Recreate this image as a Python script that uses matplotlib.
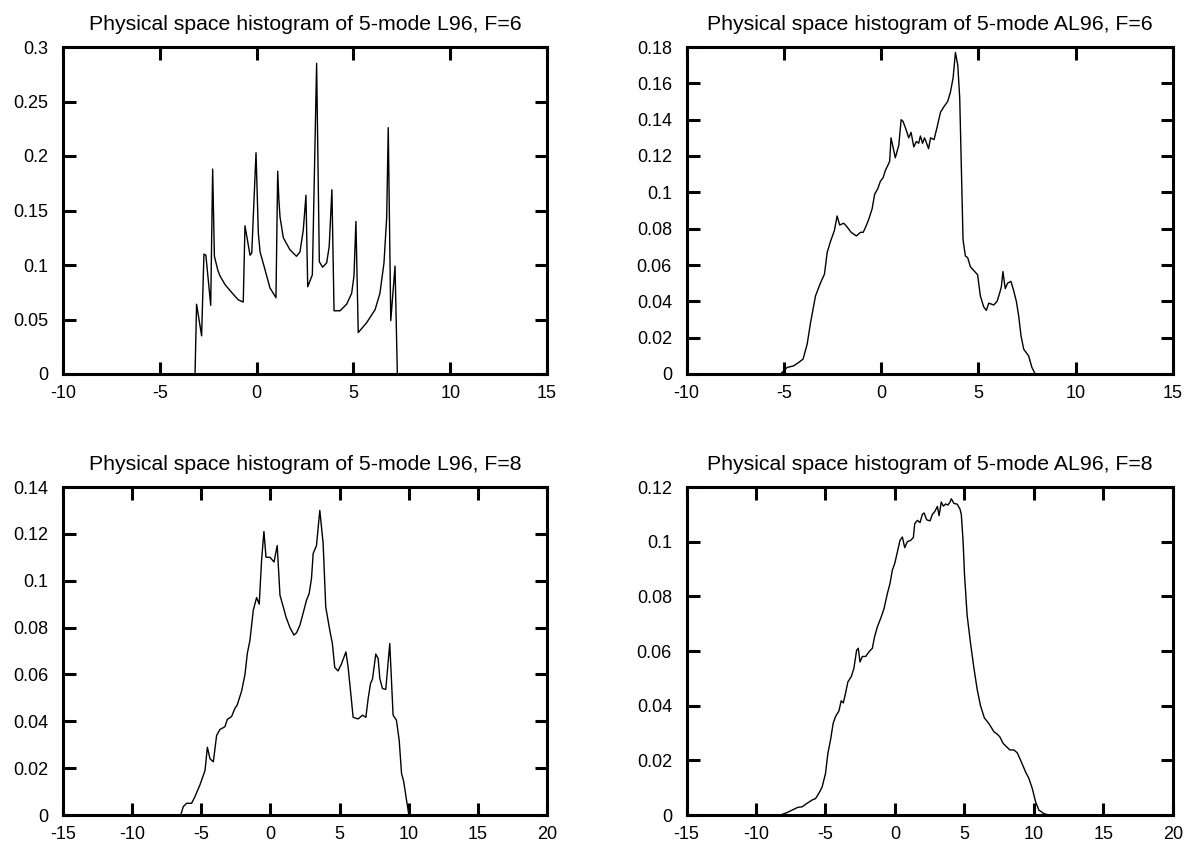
import numpy as np
import matplotlib
matplotlib.use("Agg")
import matplotlib.pyplot as plt
from matplotlib.ticker import FixedLocator, FixedFormatter

plt.rcParams['font.family'] = ['Liberation Sans', 'DejaVu Sans']

# L96, F=6
x_l96_f6 = [-10, -3.18, -3.10, -2.84, -2.72, -2.62, -2.37, -2.27, -2.18, -2.00,
            -1.89, -1.63, -1.20, -0.94, -0.69, -0.60, -0.34, -0.25, -0.03, 0.09,
            0.18, 0.43, 0.69, 1.00, 1.09, 1.15, 1.21, 1.38, 1.72, 2.06,
            2.24, 2.41, 2.55, 2.64, 2.88, 3.10, 3.24, 3.41, 3.62, 3.75,
            3.89, 4.00, 4.31, 4.65, 4.91, 5.03, 5.13, 5.25, 5.68, 6.12,
            6.37, 6.58, 6.72, 6.80, 6.93, 7.15, 7.27, 15]
y_l96_f6 = [0, 0, 0.064, 0.035, 0.110, 0.109, 0.063, 0.188, 0.108, 0.095,
            0.090, 0.082, 0.073, 0.068, 0.066, 0.136, 0.109, 0.111, 0.203, 0.129,
            0.112, 0.096, 0.079, 0.070, 0.186, 0.160, 0.144, 0.125, 0.114, 0.108,
            0.112, 0.132, 0.164, 0.080, 0.091, 0.285, 0.103, 0.098, 0.102, 0.117,
            0.169, 0.058, 0.058, 0.064, 0.074, 0.090, 0.140, 0.038, 0.047, 0.059,
            0.074, 0.102, 0.144, 0.226, 0.049, 0.099, 0, 0]

# AL96, F=6
x_al96_f6 = [-10, -5.17, -4.83, -4.49, -4.23, -4.01, -3.80, -3.63, -3.37, -3.12,
             -2.91, -2.77, -2.60, -2.40, -2.26, -2.13, -1.92, -1.75, -1.54, -1.27,
             -1.06, -0.92, -0.79, -0.64, -0.46, -0.33, -0.17, -0.04, 0.10, 0.22,
             0.44, 0.51, 0.73, 0.91, 1.03, 1.13, 1.30, 1.42, 1.54, 1.68,
             1.81, 1.93, 2.02, 2.13, 2.23, 2.34, 2.44, 2.54, 2.72, 2.88,
             3.05, 3.22, 3.42, 3.56, 3.70, 3.82, 3.94, 4.04, 4.12, 4.21,
             4.33, 4.45, 4.59, 4.76, 4.96, 5.10, 5.27, 5.41, 5.53, 5.79,
             5.96, 6.09, 6.18, 6.26, 6.38, 6.50, 6.67, 6.81, 6.95, 7.07,
             7.19, 7.33, 7.58, 7.75, 7.92, 15]
y_al96_f6 = [0, 0, 0.0036, 0.0045, 0.0064, 0.0082, 0.0164, 0.028, 0.043, 0.050,
             0.055, 0.067, 0.073, 0.079, 0.087, 0.082, 0.083, 0.081, 0.078, 0.076,
             0.078, 0.078, 0.081, 0.085, 0.091, 0.099, 0.102, 0.106, 0.108, 0.112,
             0.117, 0.130, 0.119, 0.126, 0.140, 0.139, 0.134, 0.130, 0.133, 0.125,
             0.128, 0.127, 0.131, 0.127, 0.130, 0.127, 0.124, 0.130, 0.129, 0.136,
             0.144, 0.147, 0.150, 0.155, 0.163, 0.177, 0.170, 0.152, 0.1155, 0.074,
             0.065, 0.064, 0.059, 0.057, 0.0546, 0.043, 0.037, 0.035, 0.039, 0.038,
             0.040, 0.0445, 0.048, 0.0564, 0.047, 0.050, 0.051, 0.046, 0.040, 0.032,
             0.021, 0.0136, 0.010, 0.0036, 0, 0]

# L96, F=8
x_l96_f8 = [-15, -6.49, -6.30, -6.06, -5.70, -5.46, -5.10, -4.73, -4.56, -4.37,
            -4.13, -3.89, -3.65, -3.29, -3.12, -2.81, -2.57, -2.40, -2.08, -1.84,
            -1.67, -1.48, -1.24, -1.00, -0.81, -0.64, -0.47, -0.32, -0.03, 0.26,
            0.49, 0.69, 0.93, 1.12, 1.41, 1.70, 1.89, 2.13, 2.42, 2.61,
            2.80, 2.97, 3.09, 3.33, 3.57, 3.81, 4.00, 4.29, 4.48, 4.65,
            4.89, 5.13, 5.46, 5.62, 5.81, 5.98, 6.34, 6.66, 6.90, 7.07,
            7.24, 7.38, 7.62, 7.79, 7.91, 8.10, 8.34, 8.63, 8.87, 9.11,
            9.31, 9.48, 9.64, 9.84, 10.0, 10.2, 20]
y_l96_f8 = [0, 0, 0.0036, 0.005, 0.005, 0.0078, 0.0128, 0.019, 0.0289, 0.024,
            0.0227, 0.034, 0.0365, 0.0377, 0.0408, 0.042, 0.0455, 0.047, 0.053, 0.060,
            0.069, 0.0746, 0.0874, 0.0928, 0.090, 0.1087, 0.121, 0.110, 0.110, 0.108,
            0.115, 0.0938, 0.0888, 0.0846, 0.080, 0.0768, 0.0778, 0.081, 0.0874, 0.0917,
            0.0945, 0.101, 0.1116, 0.115, 0.130, 0.116, 0.0888, 0.0789, 0.0732, 0.063,
            0.0615, 0.0644, 0.0696, 0.063, 0.0519, 0.0417, 0.041, 0.0426, 0.0417, 0.0498,
            0.0562, 0.058, 0.0687, 0.0668, 0.0583, 0.054, 0.0536, 0.0732, 0.0426, 0.0405,
            0.032, 0.0178, 0.0142, 0.0064, 0.0005, 0, 0]

# AL96, F=8
x_al96_f8 = [-15, -8.24, -7.76, -7.40, -6.99, -6.68, -6.32, -5.96, -5.72, -5.48,
             -5.24, -5.00, -4.83, -4.64, -4.45, -4.28, -4.04, -3.87, -3.72, -3.56,
             -3.39, -3.15, -2.96, -2.76, -2.64, -2.52, -2.35, -2.11, -1.87, -1.63,
             -1.47, -1.27, -0.99, -0.79, -0.55, -0.36, -0.19, -0.02, 0.17, 0.36,
             0.53, 0.70, 0.89, 1.13, 1.32, 1.42, 1.61, 1.80, 1.97, 2.09,
             2.28, 2.52, 2.69, 2.86, 3.05, 3.17, 3.33, 3.48, 3.65, 3.81,
             3.96, 4.05, 4.24, 4.48, 4.67, 4.77, 4.90, 5.00, 5.19, 5.43,
             5.67, 5.91, 6.15, 6.43, 6.75, 7.11, 7.35, 7.54, 7.78, 8.02,
             8.26, 8.55, 8.79, 9.03, 9.39, 9.63, 9.87, 10.11, 10.35, 10.71,
             11.07, 20]
y_al96_f8 = [0, 0, 0.0009, 0.0018, 0.0028, 0.003, 0.0043, 0.0055, 0.006, 0.0079,
             0.0103, 0.0152, 0.0225, 0.0274, 0.0335, 0.036, 0.038, 0.0418, 0.041, 0.0445,
             0.0487, 0.0506, 0.0536, 0.0603, 0.061, 0.056, 0.058, 0.058, 0.0597, 0.061,
             0.0652, 0.0688, 0.0725, 0.0755, 0.081, 0.0847, 0.0896, 0.092, 0.0962, 0.1005,
             0.1017, 0.0978, 0.100, 0.1005, 0.1015, 0.1066, 0.1078, 0.107, 0.110, 0.1105,
             0.108, 0.1076, 0.110, 0.111, 0.1129, 0.1095, 0.1145, 0.113, 0.1138, 0.1134,
             0.1145, 0.1157, 0.114, 0.1137, 0.112, 0.110, 0.100, 0.088, 0.073, 0.063,
             0.054, 0.046, 0.040, 0.0355, 0.0335, 0.0305, 0.0296, 0.0286, 0.0262, 0.025,
             0.0238, 0.0238, 0.0228, 0.0201, 0.0158, 0.0134, 0.0098, 0.0049, 0.0018, 0.0005,
             0, 0]

titles = ["Physical space histogram of 5-mode L96, F=6",
          "Physical space histogram of 5-mode AL96, F=6",
          "Physical space histogram of 5-mode L96, F=8",
          "Physical space histogram of 5-mode AL96, F=8"]

xticks_f6 = [-10, -5, 0, 5, 10, 15]
xticks_f8 = [-15, -10, -5, 0, 5, 10, 15, 20]
yticks = [
    [0, 0.05, 0.1, 0.15, 0.2, 0.25, 0.3],
    [0, 0.02, 0.04, 0.06, 0.08, 0.1, 0.12, 0.14, 0.16, 0.18],
    [0, 0.02, 0.04, 0.06, 0.08, 0.1, 0.12, 0.14],
    [0, 0.02, 0.04, 0.06, 0.08, 0.1, 0.12],
]

W, H = 1193, 848
fig = plt.figure(figsize=(W / 100, H / 100), dpi=100)

# axes rectangles in pixels: left, top, right, bottom
boxes = [(63, 47, 547, 374), (686.5, 47, 1173, 374),
         (63, 487, 547, 815), (686.5, 487, 1173, 815)]

series = [(x_l96_f6, y_l96_f6, xticks_f6),
          (x_al96_f6, y_al96_f6, xticks_f6),
          (x_l96_f8, y_l96_f8, xticks_f8),
          (x_al96_f8, y_al96_f8, xticks_f8)]

for i, (l, t, r, b) in enumerate(boxes):
    ax = fig.add_axes([l / W, 1 - b / H, (r - l) / W, (b - t) / H])
    xs, ys, xt = series[i]
    ax.plot(xs, ys, color='black', lw=1.0)
    ax.set_xlim(xt[0], xt[-1])
    ax.set_ylim(yticks[i][0], yticks[i][-1])
    ax.xaxis.set_major_locator(FixedLocator(xt))
    ax.xaxis.set_major_formatter(FixedFormatter(['%g' % v for v in xt]))
    ax.yaxis.set_major_locator(FixedLocator(yticks[i]))
    ax.yaxis.set_major_formatter(FixedFormatter(['%g' % v for v in yticks[i]]))
    ax.tick_params(direction='in', top=True, right=True, length=9, width=2.2,
                   labelsize=13, colors='black')
    ax.tick_params(axis='y', pad=10.5)
    ax.tick_params(axis='x', pad=8)
    for s in ax.spines.values():
        s.set_linewidth(2.2)
    ax.set_title(titles[i], fontsize=15.3, pad=12)

fig.savefig("out.png", dpi=100)
